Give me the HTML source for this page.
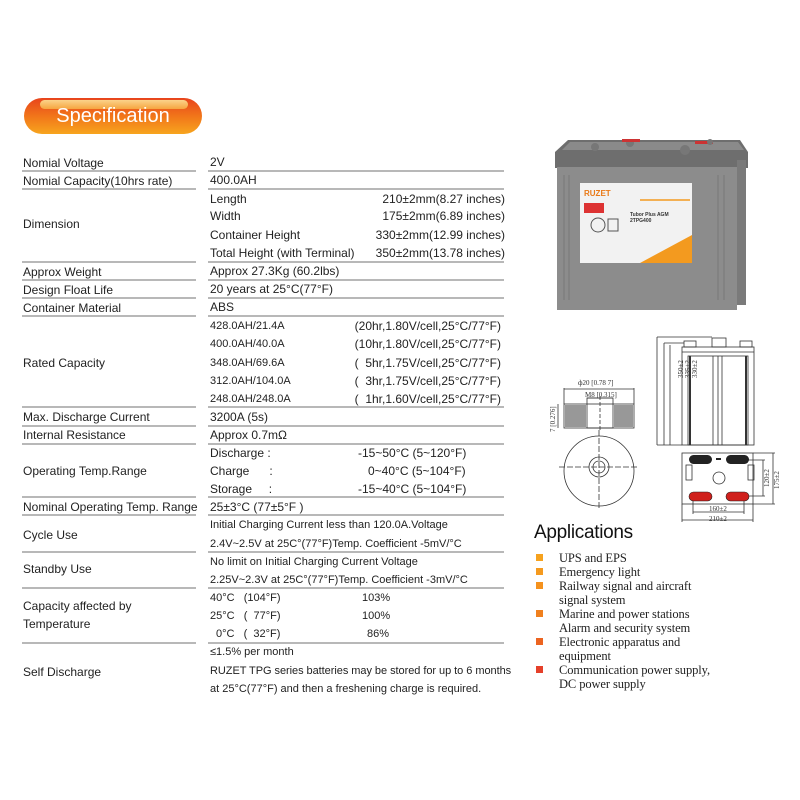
<!DOCTYPE html>
<html><head><meta charset="utf-8"><style>
body{margin:0;width:800px;height:800px;background:#fff;position:relative;overflow:hidden;font-family:"Liberation Sans",sans-serif;color:#222}
.t{position:absolute;font-size:12px;line-height:16px;white-space:nowrap}
.s{font-size:11px}
.n{font-size:11px}
.r{text-align:right}
.l{position:absolute;height:2px;background:#b8b8b8}
.ap{position:absolute;font-family:"Liberation Serif",serif;font-size:12.5px;line-height:14px;left:559px;color:#222;letter-spacing:-0.1px}
.b{position:absolute;left:536px;width:7px;height:7px}
</style></head><body>
<div style="position:absolute;left:24px;top:98px;width:178px;height:36px;border-radius:18px;background:linear-gradient(#e8441c,#f27a1a 55%,#f7a51e)"></div>
<div style="position:absolute;left:40px;top:100px;width:148px;height:9px;border-radius:5px;background:linear-gradient(#fbd38a,#f6a540)"></div>
<div class="t" style="left:24px;width:178px;top:104px;text-align:center;color:#fff;font-size:20px;line-height:24px">Specification</div>

<div class="t" style="left:23px;top:155px">Nomial Voltage</div>
<div class="t" style="left:23px;top:173px">Nomial Capacity(10hrs rate)</div>
<div class="t" style="left:23px;top:216px">Dimension</div>
<div class="t" style="left:23px;top:264px">Approx Weight</div>
<div class="t" style="left:23px;top:282px">Design Float Life</div>
<div class="t" style="left:23px;top:300px">Container Material</div>
<div class="t" style="left:23px;top:355px">Rated Capacity</div>
<div class="t" style="left:23px;top:409px">Max. Discharge Current</div>
<div class="t" style="left:23px;top:427px">Internal Resistance</div>
<div class="t" style="left:23px;top:463px">Operating Temp.Range</div>
<div class="t" style="left:23px;top:499px">Nominal Operating Temp. Range</div>
<div class="t" style="left:23px;top:527px">Cycle Use</div>
<div class="t" style="left:23px;top:561px">Standby Use</div>
<div class="t" style="left:23px;top:598px">Capacity affected by</div>
<div class="t" style="left:23px;top:616px">Temperature</div>
<div class="t" style="left:23px;top:664px">Self Discharge</div>

<div class="l" style="left:22px;width:174px;top:170px"></div><div class="l" style="left:208px;width:296px;top:170px"></div>
<div class="l" style="left:22px;width:174px;top:188px"></div><div class="l" style="left:208px;width:296px;top:188px"></div>
<div class="l" style="left:22px;width:174px;top:261px"></div><div class="l" style="left:208px;width:296px;top:261px"></div>
<div class="l" style="left:22px;width:174px;top:279px"></div><div class="l" style="left:208px;width:296px;top:279px"></div>
<div class="l" style="left:22px;width:174px;top:297px"></div><div class="l" style="left:208px;width:296px;top:297px"></div>
<div class="l" style="left:22px;width:174px;top:315px"></div><div class="l" style="left:208px;width:296px;top:315px"></div>
<div class="l" style="left:22px;width:174px;top:406px"></div><div class="l" style="left:208px;width:296px;top:406px"></div>
<div class="l" style="left:22px;width:174px;top:425px"></div><div class="l" style="left:208px;width:296px;top:425px"></div>
<div class="l" style="left:22px;width:174px;top:443px"></div><div class="l" style="left:208px;width:296px;top:443px"></div>
<div class="l" style="left:22px;width:174px;top:496px"></div><div class="l" style="left:208px;width:296px;top:496px"></div>
<div class="l" style="left:22px;width:174px;top:514px"></div><div class="l" style="left:208px;width:296px;top:514px"></div>
<div class="l" style="left:22px;width:174px;top:551px"></div><div class="l" style="left:208px;width:296px;top:551px"></div>
<div class="l" style="left:22px;width:174px;top:587px"></div><div class="l" style="left:208px;width:296px;top:587px"></div>
<div class="l" style="left:22px;width:174px;top:642px"></div><div class="l" style="left:208px;width:296px;top:642px"></div>

<div class="t" style="left:210px;top:154px">2V</div>
<div class="t" style="left:210px;top:172px">400.0AH</div>
<div class="t" style="left:210px;top:191px">Length</div><div class="t r" style="right:295px;top:191px">210±2mm(8.27 inches)</div>
<div class="t" style="left:210px;top:208px">Width</div><div class="t r" style="right:295px;top:208px">175±2mm(6.89 inches)</div>
<div class="t" style="left:210px;top:227px">Container Height</div><div class="t r" style="right:295px;top:227px">330±2mm(12.99 inches)</div>
<div class="t" style="left:210px;top:245px">Total Height (with Terminal)</div><div class="t r" style="right:295px;top:245px">350±2mm(13.78 inches)</div>
<div class="t" style="left:210px;top:263px">Approx 27.3Kg (60.2lbs)</div>
<div class="t" style="left:210px;top:281px">20 years at 25°C(77°F)</div>
<div class="t" style="left:210px;top:299px">ABS</div>
<div class="t s" style="left:210px;top:318px">428.0AH/21.4A</div><div class="t r" style="right:299px;top:318px">(20hr,1.80V/cell,25°C/77°F)</div>
<div class="t s" style="left:210px;top:336px">400.0AH/40.0A</div><div class="t r" style="right:299px;top:336px">(10hr,1.80V/cell,25°C/77°F)</div>
<div class="t s" style="left:210px;top:355px">348.0AH/69.6A</div><div class="t r" style="right:299px;top:355px">(&nbsp; 5hr,1.75V/cell,25°C/77°F)</div>
<div class="t s" style="left:210px;top:373px">312.0AH/104.0A</div><div class="t r" style="right:299px;top:373px">(&nbsp; 3hr,1.75V/cell,25°C/77°F)</div>
<div class="t s" style="left:210px;top:391px">248.0AH/248.0A</div><div class="t r" style="right:299px;top:391px">(&nbsp; 1hr,1.60V/cell,25°C/77°F)</div>
<div class="t" style="left:210px;top:409px">3200A (5s)</div>
<div class="t" style="left:210px;top:427px">Approx 0.7mΩ</div>
<div class="t" style="left:210px;top:445px">Discharge :</div><div class="t" style="left:358px;top:445px">-15~50°C (5~120°F)</div>
<div class="t" style="left:210px;top:463px">Charge&nbsp;&nbsp;&nbsp;&nbsp;&nbsp; :</div><div class="t" style="left:368px;top:463px">0~40°C (5~104°F)</div>
<div class="t" style="left:210px;top:481px">Storage&nbsp;&nbsp;&nbsp;&nbsp; :</div><div class="t" style="left:358px;top:481px">-15~40°C (5~104°F)</div>
<div class="t" style="left:210px;top:499px">25±3°C (77±5°F )</div>
<div class="t n" style="left:210px;top:517px">Initial Charging Current less than 120.0A.Voltage</div>
<div class="t n" style="left:210px;top:536px">2.4V~2.5V at 25C°(77°F)Temp. Coefficient -5mV/°C</div>
<div class="t n" style="left:210px;top:554px">No limit on Initial Charging Current Voltage</div>
<div class="t n" style="left:210px;top:572px">2.25V~2.3V at 25C°(77°F)Temp. Coefficient -3mV/°C</div>
<div class="t n" style="left:210px;top:590px">40°C&nbsp;&nbsp; (104°F)</div><div class="t n" style="left:362px;top:590px">103%</div>
<div class="t n" style="left:210px;top:608px">25°C&nbsp;&nbsp; (&nbsp; 77°F)</div><div class="t n" style="left:362px;top:608px">100%</div>
<div class="t n" style="left:216px;top:626px">0°C&nbsp;&nbsp; (&nbsp; 32°F)</div><div class="t n" style="left:367px;top:626px">86%</div>
<div class="t n" style="left:210px;top:644px">≤1.5% per month</div>
<div class="t n" style="left:210px;top:663px;letter-spacing:-0.05px">RUZET TPG series batteries may be stored for up to 6 months</div>
<div class="t n" style="left:210px;top:681px">at 25°C(77°F) and then a freshening charge is required.</div>

<svg style="position:absolute;left:0;top:0" width="800" height="800">
<polygon points="568,140 740,140 748,152 748,168 555,168 555,152" fill="#6e6e6e"/>
<polygon points="570,142 738,142 744,150 562,150" fill="#8a8a8a"/>
<rect x="557" y="167" width="180" height="143" fill="#8c8c8c"/>
<rect x="737" y="160" width="9" height="145" fill="#7a7a7a"/>
<line x1="564" y1="175" x2="564" y2="300" stroke="#777"/><line x1="569" y1="175" x2="569" y2="300" stroke="#777"/>
<line x1="718" y1="175" x2="718" y2="300" stroke="#777"/><line x1="724" y1="175" x2="724" y2="300" stroke="#777"/>
<rect x="580" y="183" width="112" height="80" fill="#f2f2f2"/>
<polygon points="640,263 692,235 692,263" fill="#f39a1f"/>
<text x="584" y="196" font-family="Liberation Sans" font-size="8" font-weight="bold" fill="#e97a18">RUZET</text>
<line x1="640" y1="200" x2="690" y2="200" stroke="#f39a1f" stroke-width="1.5"/>
<rect x="584" y="203" width="20" height="10" fill="#d33"/>
<text x="630" y="216" font-family="Liberation Sans" font-size="5" font-weight="bold" fill="#333">Tubor Plus AGM</text>
<text x="630" y="222" font-family="Liberation Sans" font-size="5" font-weight="bold" fill="#333">2TPG400</text>
<circle cx="598" cy="225" r="7" fill="none" stroke="#555"/><rect x="608" y="219" width="10" height="12" fill="none" stroke="#555"/>
<circle cx="630" cy="143" r="4" fill="#777"/><circle cx="685" cy="150" r="5" fill="#777"/><circle cx="595" cy="147" r="4" fill="#777"/>
<rect x="622" y="139" width="18" height="3" fill="#c33"/><rect x="695" y="141" width="18" height="3" fill="#c33"/>
<circle cx="710" cy="142" r="3" fill="#777"/>

<g stroke="#333" fill="none" stroke-width="0.8">
<rect x="682" y="347" width="72" height="98"/>
<line x1="682" y1="352" x2="754" y2="352"/>
<rect x="688" y="356" width="60" height="89"/>
<line x1="690" y1="356" x2="690" y2="445" stroke-width="2"/>
<line x1="746" y1="356" x2="746" y2="445" stroke-width="2"/>
<line x1="713" y1="356" x2="713" y2="445"/><line x1="718" y1="356" x2="718" y2="445"/><line x1="722" y1="356" x2="722" y2="445"/>
<rect x="712" y="338" width="14" height="9"/><rect x="684" y="341" width="12" height="6"/><rect x="740" y="341" width="12" height="6"/>
<line x1="657" y1="337" x2="657" y2="445"/><line x1="657" y1="337" x2="712" y2="337"/><line x1="657" y1="445" x2="682" y2="445"/>
<line x1="664" y1="343" x2="664" y2="445"/><line x1="670" y1="345" x2="670" y2="445"/>
<line x1="664" y1="343" x2="684" y2="343"/>
<rect x="564" y="404" width="70" height="24"/>
<rect x="587" y="398" width="26" height="30"/>
<line x1="600" y1="396" x2="600" y2="430" stroke-dasharray="4 2"/>
<line x1="564" y1="388" x2="564" y2="404"/><line x1="634" y1="388" x2="634" y2="404"/><line x1="564" y1="389" x2="634" y2="389"/>
<line x1="587" y1="398" x2="613" y2="398"/>
<line x1="558" y1="404" x2="558" y2="428"/>
<circle cx="599" cy="471" r="35"/><circle cx="599" cy="467" r="10"/><circle cx="599" cy="467" r="6"/>
<line x1="559" y1="467" x2="639" y2="467" stroke-dasharray="6 2"/><line x1="599" y1="430" x2="599" y2="508" stroke-dasharray="6 2"/>
<rect x="682" y="453" width="71" height="51"/>
<rect x="686" y="465" width="6" height="15"/><rect x="748" y="465" width="6" height="15"/>
<circle cx="719" cy="478" r="6"/>
<line x1="753" y1="453" x2="775" y2="453"/><line x1="753" y1="504" x2="775" y2="504"/><line x1="773" y1="453" x2="773" y2="504"/>
<line x1="745" y1="460" x2="765" y2="460"/><line x1="745" y1="496" x2="765" y2="496"/><line x1="763" y1="460" x2="763" y2="496"/>
<line x1="693" y1="498" x2="693" y2="514"/><line x1="744" y1="498" x2="744" y2="514"/><line x1="693" y1="512" x2="744" y2="512"/>
<line x1="682" y1="504" x2="682" y2="522"/><line x1="753" y1="504" x2="753" y2="522"/><line x1="682" y1="520" x2="753" y2="520"/>
</g>
<g fill="#444" opacity="0.55"><rect x="565" y="405" width="21" height="22"/><rect x="614" y="405" width="19" height="22"/></g>
<rect x="689" y="455" width="23" height="9" rx="4.5" fill="#222"/><rect x="726" y="455" width="23" height="9" rx="4.5" fill="#222"/>
<rect x="689" y="492" width="23" height="9" rx="4.5" fill="#d0201c" stroke="#222" stroke-width="0.6"/><rect x="726" y="492" width="23" height="9" rx="4.5" fill="#d0201c" stroke="#222" stroke-width="0.6"/>
<rect x="716" y="458" width="5" height="2" fill="#222"/>
<g font-family="Liberation Serif" font-size="7" fill="#333">
<text x="578" y="385">ф20 [0.78 7]</text>
<text x="585" y="397">M8 [0.315]</text>
<text x="555" y="432" transform="rotate(-90 555 432)">7 [0.276]</text>
<text x="683" y="378" transform="rotate(-90 683 378)">350±2</text>
<text x="690" y="378" transform="rotate(-90 690 378)">335±2</text>
<text x="697" y="378" transform="rotate(-90 697 378)">330±2</text>
<text x="769" y="487" transform="rotate(-90 769 487)">120±2</text>
<text x="779" y="489" transform="rotate(-90 779 489)">175±2</text>
<text x="709" y="511">160±2</text>
<text x="709" y="521">210±2</text>
</g>
</svg>

<div class="t" style="left:534px;top:521px;font-size:19px;line-height:24px;color:#111;letter-spacing:-0.3px">Applications</div>
<div class="b" style="top:554px;background:#f6a21e"></div><div class="ap" style="top:551px">UPS and EPS</div>
<div class="b" style="top:568px;background:#f59a1e"></div><div class="ap" style="top:565px">Emergency light</div>
<div class="b" style="top:582px;background:#f5921e"></div><div class="ap" style="top:579px">Railway signal and aircraft</div>
<div class="ap" style="top:593px">signal system</div>
<div class="b" style="top:610px;background:#f0801e"></div><div class="ap" style="top:607px">Marine and power stations</div>
<div class="ap" style="top:621px">Alarm and security system</div>
<div class="b" style="top:638px;background:#ec6420"></div><div class="ap" style="top:635px">Electronic apparatus and</div>
<div class="ap" style="top:649px">equipment</div>
<div class="b" style="top:666px;background:#e5402a"></div><div class="ap" style="top:663px">Communication power supply,</div>
<div class="ap" style="top:677px">DC power supply</div>
</body></html>
